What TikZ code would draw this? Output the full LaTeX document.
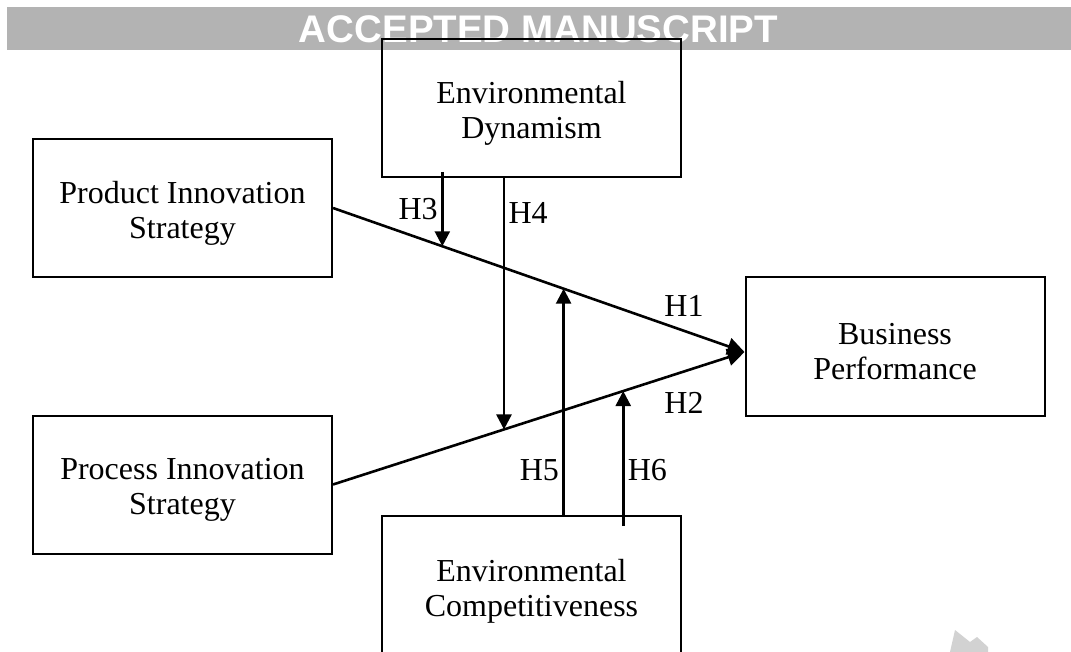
\documentclass[tikz,border=0pt]{standalone}
\usepackage{fontspec}
\setmainfont{Liberation Serif}
\newfontfamily\stampfont{Liberation Sans}
\usetikzlibrary{arrows.meta}
\definecolor{bannergray}{HTML}{B3B3B3}
\definecolor{markgray}{HTML}{D2D2D2}
\newcommand{\toplift}{\rule{0pt}{32pt}}
\tikzset{
  varbox/.style={draw, line width=2pt, minimum width=299pt, minimum height=138pt,
    align=center, font=\fontsize{32}{35}\selectfont},
  hlabel/.style={font=\fontsize{32}{35}\selectfont},
  link/.style={draw, line width=2.6pt, -{Triangle[length=15pt,width=15pt]}},
  mainlink/.style={link, -{Triangle[length=17pt,width=17pt]}}
}
\begin{document}
\begin{tikzpicture}[x=1pt, y=-1pt]
    \useasboundingbox (0,0) rectangle (1071,652);
    \path[fill=bannergray] (7,7) rectangle (1071,50);
    \node[text=white, font=\stampfont\bfseries\fontsize{38.5}{38.5}\selectfont] (stamp) at (538.5,29) {ACCEPTED MANUSCRIPT};
    \path[fill=markgray] (950,652) -- (955,630) -- (970,642) -- (977,637) -- (988,647) -- (988,652) -- cycle;

    \node[varbox] (ed) at (531.5,108) {\toplift Environmental\\Dynamism};
    \node[varbox] (pis) at (182.5,208) {\toplift Product Innovation\\Strategy};
    \node[varbox] (prs) at (182.5,484.5) {\toplift Process Innovation\\Strategy};
    \node[varbox] (bp) at (895,346.5) {\toplift Business\\Performance};
    \node[varbox, minimum height=140pt] (ec) at (531.5,586) {\toplift Environmental\\Competitiveness};

    \coordinate (bpin) at ([yshift=-5.5pt]bp.west);
    \path[mainlink] (pis.east) -- node[hlabel, pos=0.853, anchor=south, yshift=10pt] (h1) {H1} (bpin);
    \path[mainlink] (prs.east) -- node[hlabel, pos=0.853, anchor=north, yshift=-16pt] (h2) {H2} (bpin);
    \path (pis.east) -- (bpin) coordinate[pos=0.2657] (on3) coordinate[pos=0.5604] (on5);
    \path (prs.east) -- (bpin) coordinate[pos=0.4155] (on4) coordinate[pos=0.7053] (on6);
    \coordinate (from3) at (ed.south -| on3);
    \coordinate (from6) at (ec.north -| on6);

    \path[link] ([yshift=6pt]from3) -- node[hlabel, anchor=east] (h3) {H3} (on3);
    \path[link] (ed.south -| on4) -- node[hlabel, pos=0.138, anchor=west] (h4) {H4} (on4);
    \path[link] (ec.north -| on5) -- node[hlabel, pos=0.197, anchor=east] (h5) {H5} (on5);
    \path[link] ([yshift=-11pt]from6) -- node[hlabel, pos=0.415, anchor=west] (h6) {H6} (on6);
\end{tikzpicture}
\end{document}
